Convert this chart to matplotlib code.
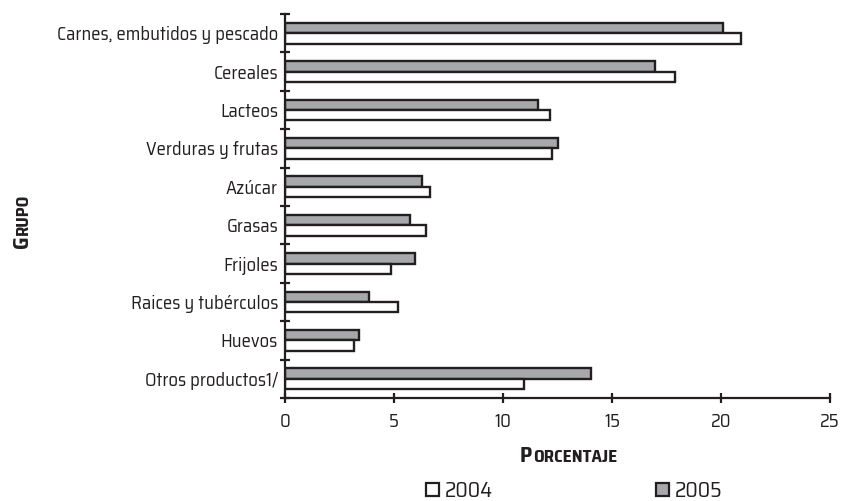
import matplotlib
matplotlib.use("Agg")
import matplotlib.pyplot as plt
import numpy as np
from matplotlib.patches import Patch

categories = ["Carnes, embutidos y pescado", "Cereales", "Lacteos", "Verduras y frutas",
              "Azúcar", "Grasas", "Frijoles", "Raices y tubérculos", "Huevos", "Otros productos1/"]
v2004 = [20.9, 17.9, 12.15, 12.25, 6.65, 6.45, 4.85, 5.2, 3.15, 10.95]
v2005 = [20.1, 16.95, 11.6, 12.5, 6.3, 5.75, 5.95, 3.85, 3.4, 14.05]
xticks = [0, 5, 10, 15, 20, 25]

plt.rcParams['font.family'] = ['Saira SemiCondensed', 'DejaVu Sans']
dark = '#231f20'
gray = '#a7a8aa'

fig = plt.figure(figsize=(8.42, 5.01), dpi=100)
ax = fig.add_axes([285/842, 1-398/501, (830-285)/842, (398-14)/501])

y = np.arange(len(categories))
h = 0.27
ax.barh(y - h/2, v2005, height=h, color=gray, edgecolor=dark, linewidth=1.7, label='2005')
ax.barh(y + h/2, v2004, height=h, color='white', edgecolor=dark, linewidth=1.7, label='2004')

ax.set_ylim(len(categories) - 0.5, -0.5)
ax.set_xlim(0, 25)
ax.set_xticks(xticks)
ax.set_yticks(y)
ax.set_yticklabels(categories, fontsize=13.4, color=dark)
ax.set_yticks(np.arange(-0.5, len(categories)), minor=True)
ax.tick_params(axis='y', which='major', length=0, pad=5)
ax.tick_params(axis='y', which='minor', length=7, width=1.6, direction='inout', color=dark)
ax.tick_params(axis='x', length=7, width=1.6, direction='inout', color=dark, labelsize=13.4,
               labelcolor=dark, pad=7)
for s in ['top', 'right']:
    ax.spines[s].set_visible(False)
for s in ['left', 'bottom']:
    ax.spines[s].set_linewidth(1.6)
    ax.spines[s].set_color(dark)

fig.canvas.draw()
r = fig.canvas.get_renderer()

BIG, SMALL = 15.5, 12.5
# x label in small caps style
t1 = fig.text(520, 501 - 462, "P", fontsize=BIG, fontweight='bold', color=dark,
              ha='left', va='baseline', transform=None)
bb = t1.get_window_extent(r)
fig.text(bb.x1 + 0.5, 501 - 462, "ORCENTAJE", fontsize=SMALL, fontweight='bold', color=dark,
         ha='left', va='baseline', transform=None)

# y label rotated small caps
t2 = fig.text(28, 501 - 248, "G", fontsize=BIG, fontweight='bold', rotation=90, color=dark,
              ha='left', va='baseline', rotation_mode='anchor', transform=None)
bb = t2.get_window_extent(r)
fig.text(28, bb.y1 + 0.5, "RUPO", fontsize=SMALL, fontweight='bold', rotation=90, color=dark,
         ha='left', va='baseline', rotation_mode='anchor', transform=None)

handles = [Patch(facecolor='white', edgecolor=dark, linewidth=1.6, label='2004'),
           Patch(facecolor=gray, edgecolor=dark, linewidth=1.6, label='2005')]
fig.legend(handles=handles, loc='center', bbox_to_anchor=(574/842, 1-491/501), ncol=2,
           frameon=False, fontsize=15.5, handlelength=0.6, handleheight=0.6, handletextpad=0.25,
           columnspacing=7.6, labelcolor=dark, borderpad=0)

fig.savefig('out.png', dpi=100)
